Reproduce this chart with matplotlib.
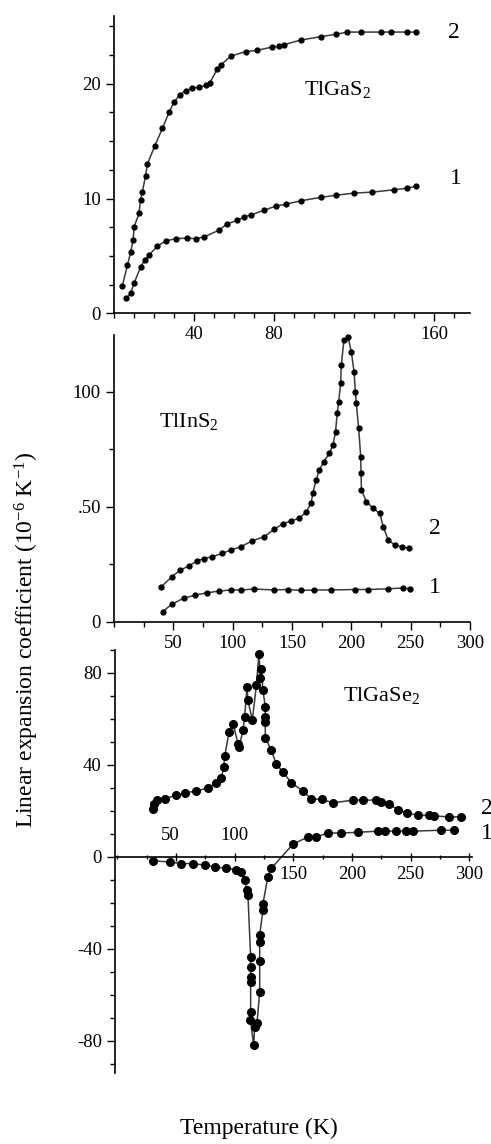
import matplotlib
matplotlib.use("Agg")
import matplotlib.pyplot as plt
from matplotlib.ticker import MultipleLocator, FixedLocator

plt.rcParams['font.family'] = ['Liberation Serif', 'DejaVu Serif']
plt.rcParams['mathtext.fontset'] = 'custom'
plt.rcParams['mathtext.rm'] = 'Liberation Serif'
plt.rcParams['mathtext.it'] = 'Liberation Serif:italic'
plt.rcParams['axes.unicode_minus'] = False

# --- TlGaS2 ---
gas_t2 = [4.2, 6.7, 8.3, 9.6, 10.0, 12.5, 13.3, 14.2, 15.8, 16.7, 20.4, 24.2, 27.5, 30.0,
          32.8, 35.8, 39.2, 42.5, 45.8, 48.0, 51.7, 53.3, 58.3, 65.8, 71.3, 79.2, 82.5,
          85.0, 93.3, 103.3, 110.8, 116.7, 123.3, 133.3, 138.3, 146.7, 150.8]
gas_a2 = [2.4, 4.2, 5.3, 6.4, 7.5, 8.7, 9.9, 10.6, 12.0, 13.0, 14.6, 16.1, 17.5, 18.4,
          19.0, 19.4, 19.6, 19.7, 19.85, 20.1, 21.3, 21.6, 22.4, 22.8, 22.9, 23.2, 23.25,
          23.4, 23.8, 24.1, 24.3, 24.5, 24.5, 24.5, 24.5, 24.5, 24.5]
gas_t1 = [6.2, 8.3, 10.0, 13.3, 15.3, 17.5, 21.7, 25.8, 30.8, 36.7, 40.8, 45.0, 52.5,
          56.7, 61.7, 65.0, 68.3, 75.0, 80.8, 85.8, 93.3, 103.3, 110.8, 120.0, 129.2,
          140.0, 146.7, 150.8]
gas_a1 = [1.3, 1.74, 2.6, 4.05, 4.6, 5.07, 5.85, 6.3, 6.5, 6.55, 6.5, 6.65, 7.24,
          7.8, 8.1, 8.4, 8.55, 8.98, 9.33, 9.5, 9.8, 10.1, 10.28, 10.47, 10.56,
          10.76, 10.9, 11.06]

# --- TlInS2 ---
ins_t2 = [39.8, 48.9, 55.9, 63.0, 70.0, 75.7, 82.8, 91.3, 98.3, 106.8, 116.7, 126.6,
          135.0, 142.1, 149.2, 156.2, 161.9, 166.1, 167.5, 170.3, 173.1, 176.8, 181.6,
          184.4, 186.7, 188.1, 189.3, 191.0, 191.5, 193.8, 197.2, 200.0, 202.3, 203.4,
          204.2, 206.2, 207.9, 208.2, 208.5, 212.7, 218.4, 224.0, 226.9, 231.1, 236.7,
          242.4, 248.6]
ins_a2 = [15.2, 19.6, 22.5, 24.2, 26.5, 27.4, 28.3, 29.7, 31.2, 32.6, 35.2, 37.0,
          40.2, 42.5, 43.8, 45.0, 47.8, 51.5, 55.8, 61.6, 66.0, 69.6, 73.2,
          76.8, 82.6, 90.6, 95.7, 103.7, 111.6, 122.5, 123.7, 117.4, 108.7, 100.0,
          95.0, 84.1, 71.7, 64.5, 57.3, 52.2, 49.3, 47.1, 41.3, 35.5, 33.3,
          32.6, 31.9]
ins_t1 = [40.9, 48.9, 58.7, 68.6, 78.6, 88.4, 98.3, 106.8, 118.0, 135.0, 146.4, 157.6,
          168.9, 183.0, 202.8, 214.2, 231.1, 243.8, 249.4]
ins_a1 = [4.3, 7.7, 10.2, 11.6, 12.6, 13.3, 13.8, 13.8, 14.2, 13.8, 14.0, 13.6,
          13.8, 13.8, 14.0, 14.0, 14.3, 14.7, 14.3]

# --- TlGaSe2 ---
gase_t2 = [30.5, 31.0, 33.4, 40.4, 50.4, 57.4, 67.4, 77.4, 83.8, 88.7, 90.6, 91.5, 95.2,
           98.6, 102.8, 103.7, 107.1, 108.5, 110.5, 111.3, 115.0, 118.5, 120.7, 121.9,
           122.7, 124.1, 126.1, 126.1, 126.1, 126.1, 131.2, 135.5, 141.1, 148.3, 158.1,
           165.3, 174.6, 183.7, 200.7, 209.2, 220.6, 224.9, 231.9, 239.0, 246.6, 256.0,
           266.0, 270.2, 283.0, 292.9]
gase_a2 = [21.0, 23.2, 24.7, 25.4, 26.8, 27.8, 28.7, 30.0, 32.2, 34.5, 38.9, 43.8, 54.3,
           58.0, 49.3, 47.8, 55.0, 60.9, 73.9, 68.1, 59.4, 74.6, 88.4, 78.0,
           81.9, 72.5, 65.2, 60.9, 58.7, 51.9, 46.4, 40.3, 37.0, 32.2, 28.7,
           25.2, 25.0, 23.5, 24.7, 24.7, 24.7, 23.9, 22.8, 20.6, 19.1, 18.1,
           18.1, 17.8, 17.4, 17.4]
gase_t1 = [30.5, 44.7, 54.6, 64.5, 74.5, 83.0, 92.9, 101.4, 105.7, 108.5, 110.5, 111.3,
           113.6, 113.6, 113.6, 113.6, 113.6, 113.4, 116.2, 117.0, 119.0, 121.3, 121.3,
           121.3, 121.3, 124.1, 124.1, 128.3, 131.2, 149.6, 162.4, 169.5, 179.4, 190.8,
           205.0, 222.0, 227.7, 237.6, 246.1, 251.8, 275.9, 287.2]
gase_a1 = [-1.7, -2.2, -2.9, -2.9, -3.6, -4.3, -5.0, -5.5, -6.5, -10.1, -14.5, -16.7,
           -43.5, -47.8, -52.2, -54.3, -67.4, -71.0, -81.9, -73.9, -72.4, -58.7, -45.2,
           -37.0, -34.0, -23.2, -20.3, -8.7, -5.0, 5.5, 8.7, 8.7, 10.4, 10.4,
           10.7, 11.2, 11.2, 11.2, 11.2, 11.2, 11.6, 11.6]

fig = plt.figure(figsize=(4.91, 11.44), dpi=100)
W, H = 491.0, 1144.0


def make_axes(left, top, right, bottom):
    ax = fig.add_axes([left / W, 1 - bottom / H, (right - left) / W, (bottom - top) / H])
    ax.patch.set_visible(False)  # let tick labels of the panel above show through
    return ax


def style(ax):
    for s in ['top', 'right']:
        ax.spines[s].set_visible(False)
    for s in ['left', 'bottom']:
        ax.spines[s].set_linewidth(1.2)
    ax.tick_params(which='both', labelsize=13.5, width=1.0, direction='out')
    ax.tick_params(which='major', length=6)
    ax.tick_params(which='minor', length=3.5)


def draw(ax, x, y, ms):
    ax.plot(x, y, '-', color='#3a3a3a', lw=1.1, marker='o', ms=ms,
            mfc='black', mec='black', clip_on=False)


line_txt = dict(fontsize=17, ha='center', va='center')

# panel 1
ax1 = make_axes(114, 16, 470, 313.3)
style(ax1)
draw(ax1, gas_t2, gas_a2, 3.5)
draw(ax1, gas_t1, gas_a1, 3.5)
ax1.set_xlim(0, 178)
ax1.set_ylim(0, 25.9)
ax1.xaxis.set_major_locator(FixedLocator([40, 80, 160]))
ax1.xaxis.set_minor_locator(MultipleLocator(10))
ax1.yaxis.set_major_locator(FixedLocator([0, 10, 20]))
ax1.yaxis.set_minor_locator(MultipleLocator(2.5))
ax1.text(170, 24.5, '2', **line_txt, clip_on=False)
ax1.text(171, 11.7, '1', **line_txt, clip_on=False)
ax1.text(112, 19.5, 'TlGaS$_2$', fontsize=16, ha='center', va='center')

# panel 2
ax2 = make_axes(114, 335, 470, 621.7)
style(ax2)
draw(ax2, ins_t2, ins_a2, 3.5)
draw(ax2, ins_t1, ins_a1, 3.5)
ax2.set_xlim(0, 300)
ax2.set_ylim(0, 124.7)
ax2.xaxis.set_major_locator(FixedLocator([50, 100, 150, 200, 250, 300]))
ax2.set_xticklabels(['50', '100', '150', '200', '250', '300'])
ax2.xaxis.set_minor_locator(MultipleLocator(25))
ax2.yaxis.set_major_locator(FixedLocator([0, 50, 100]))
ax2.set_yticklabels(['0', '.50', '100'])
ax2.yaxis.set_minor_locator(MultipleLocator(25))
ax2.text(270, 40.5, '2', **line_txt, clip_on=False)
ax2.text(270, 14.8, '1', **line_txt, clip_on=False)
ax2.text(63, 87, 'TlInS$_2$', fontsize=16, ha='center', va='center')

# panel 3
ax3 = make_axes(115, 650, 471.7, 1073)
style(ax3)
ax3.spines['bottom'].set_position(('data', 0))
draw(ax3, gase_t2, gase_a2, 5.5)
draw(ax3, gase_t1, gase_a1, 5.5)
ax3.set_xlim(-2, 302)
ax3.set_ylim(-94, 90)
ax3.xaxis.set_major_locator(FixedLocator([50, 100, 150, 200, 250, 300]))
ax3.set_xticklabels(['', '', '150', '200', '250', '300'])
ax3.xaxis.set_minor_locator(MultipleLocator(25))
ax3.tick_params(axis='x', which='both', direction='inout')
ax3.yaxis.set_major_locator(FixedLocator([-80, -40, 0, 40, 80]))
ax3.yaxis.set_minor_locator(MultipleLocator(10))
ax3.text(45, 9.3, '50', fontsize=13.5, ha='center', va='center')
ax3.text(100, 9.3, '100', fontsize=13.5, ha='center', va='center')
ax3.text(315, 21, '2', **line_txt, clip_on=False)
ax3.text(315, 10, '1', **line_txt, clip_on=False)
ax3.text(225, 70, 'TlGaSe$_2$', fontsize=16, ha='center', va='center')

fig.text(27 / W, 1 - 640 / H, 'Linear expansion coefficient (10$^{-6}$ K$^{-1}$)',
         rotation=90, fontsize=17, ha='center', va='center')
fig.text(259 / W, 1 - 1128 / H, 'Temperature (K)', fontsize=17, ha='center', va='center')

fig.savefig('out.png', dpi=100)
